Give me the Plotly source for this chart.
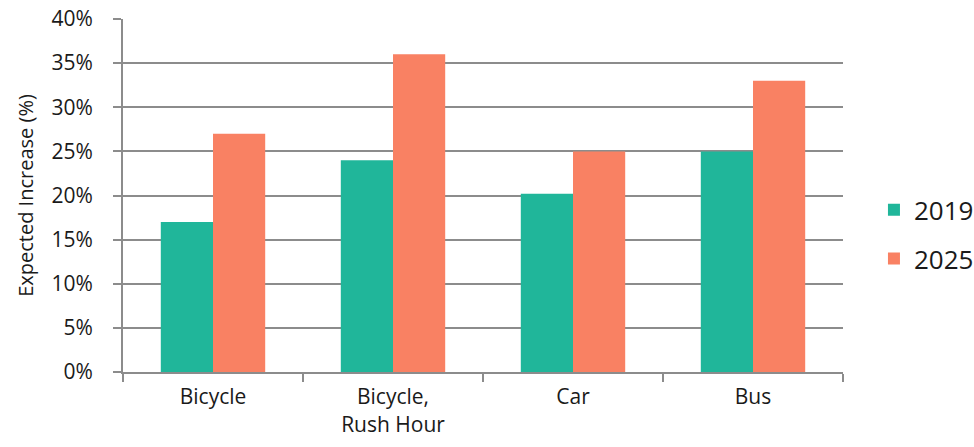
import plotly.graph_objects as go

# Expected increase by travel mode, in percent
categories = ["Bicycle", "Bicycle,<br>Rush Hour", "Car", "Bus"]
years = ["2019", "2025"]
values_2019 = [17, 24, 20.2, 25]
values_2025 = [27, 36, 25, 33]
y_ticks = [0, 5, 10, 15, 20, 25, 30, 35, 40]
y_tick_labels = [f"{v}%" for v in y_ticks]

colors = {"2019": "#20B69A", "2025": "#F98163"}
font_family = "Open Sans, Noto Sans, sans-serif"
text_color = "#1a1a1a"
grid_color = "#8C8C8C"

fig = go.Figure()
for year, vals in zip(years, [values_2019, values_2025]):
    fig.add_trace(go.Bar(
        x=categories,
        y=vals,
        name=year,
        legendgroup=year,
        marker=dict(color=colors[year], line=dict(width=0)),
    ))

fig.update_layout(
    width=974,
    height=447,
    margin=dict(l=123, r=131, t=19, b=75, autoexpand=False),
    paper_bgcolor="white",
    plot_bgcolor="white",
    barmode="group",
    bargap=0.42,
    bargroupgap=0,
    font=dict(family=font_family, color=text_color),
    legend=dict(
        x=1.043, y=0.39, xanchor="left", yanchor="middle",
        font=dict(size=26, family=font_family, color=text_color),
        traceorder="grouped",
        tracegroupgap=12,
        itemwidth=30,
        bgcolor="rgba(0,0,0,0)",
    ),
    xaxis=dict(
        type="category",
        tickson="boundaries",
        ticks="outside",
        ticklen=8,
        tickwidth=2,
        tickcolor=grid_color,
        showline=True,
        linecolor=grid_color,
        linewidth=2,
        showgrid=False,
        tickfont=dict(size=21, family=font_family, color=text_color),
        ticklabelstandoff=5,
    ),
    yaxis=dict(
        range=[0, 40],
        tickvals=y_ticks,
        ticktext=y_tick_labels,
        ticks="outside",
        ticklen=8,
        tickwidth=2,
        tickcolor=grid_color,
        showline=True,
        linecolor=grid_color,
        linewidth=2,
        showgrid=True,
        gridcolor=grid_color,
        gridwidth=2,
        zeroline=False,
        tickfont=dict(size=21, family=font_family, color=text_color),
        ticklabelstandoff=16,
        title=dict(
            text="Expected Increase (%)",
            font=dict(size=20, family=font_family, color=text_color),
            standoff=12,
        ),
    ),
)

fig.write_html("out.html")
